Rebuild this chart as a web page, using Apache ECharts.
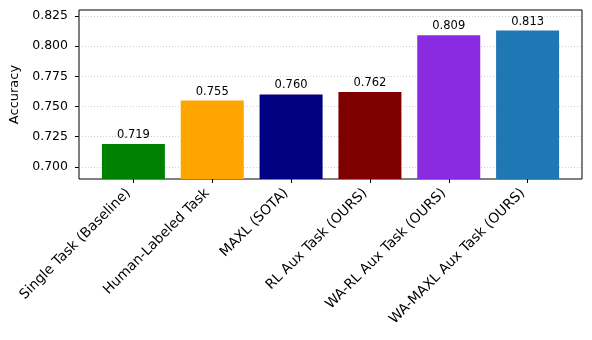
<!DOCTYPE html>
<html>
<head>
<meta charset="utf-8">
<script src="https://cdn.jsdelivr.net/npm/echarts@6/dist/echarts.min.js"></script>
<style>
  html, body { margin: 0; padding: 0; background: #fff; }
  #chart { width: 592px; height: 340px; }
</style>
</head>
<body>
<div id="chart"></div>
<script>
// data
const categories = [
  "Single Task (Baseline)",
  "Human-Labeled Task",
  "MAXL (SOTA)",
  "RL Aux Task (OURS)",
  "WA-RL Aux Task (OURS)",
  "WA-MAXL Aux Task (OURS)",
];
const accuracy = [0.719, 0.755, 0.760, 0.762, 0.809, 0.813];
const barColors = ["#008000", "#ffa500", "#000080", "#800000", "#8a2be2", "#1f77b4"];
const yTicks = [0.700, 0.725, 0.750, 0.775, 0.800, 0.825];
const xTicks = [0, 1, 2, 3, 4, 5];

const font = "DejaVu Sans";

const chart = echarts.init(document.getElementById("chart"));

const option = {
  backgroundColor: "#fff",
  animation: false,
  grid: {
    left: 79,
    right: 10,
    top: 10,
    bottom: 161,
    show: true,
    borderColor: "#000",
    borderWidth: 1,
  },
  xAxis: {
    type: "value",
    min: -0.69,
    max: 5.69,
    axisLine: { show: false, onZero: false },
    splitLine: { show: false },
    axisTick: {
      show: true,
      length: 4,
      customValues: xTicks,
      lineStyle: { color: "#000", width: 1 },
    },
    axisLabel: {
      customValues: xTicks,
      rotate: 45,
      margin: 7,
      padding: [0, 7, 0, 0],
      color: "#000",
      fontFamily: font,
      fontSize: 13.8,
      formatter: (v) => categories[Math.round(v)] || "",
    },
  },
  yAxis: {
    type: "value",
    min: 0.69,
    max: 0.83,
    name: "Accuracy",
    nameLocation: "middle",
    nameGap: 58,
    nameTextStyle: { color: "#000", fontFamily: font, fontSize: 13 },
    axisLine: { show: false, onZero: false },
    axisTick: {
      show: true,
      length: 4,
      customValues: yTicks,
      lineStyle: { color: "#000", width: 1 },
    },
    axisLabel: {
      customValues: yTicks,
      margin: 11,
      color: "#000",
      fontFamily: font,
      fontSize: 12.5,
      formatter: (v) => v.toFixed(3),
    },
    splitLine: {
      show: true,
      lineStyle: { color: "#b0b0b0", width: 0.6, type: [1, 2] },
    },
  },
  series: [
    {
      type: "bar",
      barWidth: 63,
      data: accuracy.map((v, i) => ({
        value: [i, v],
        itemStyle: { color: barColors[i] },
      })),
      label: {
        show: true,
        position: "top",
        distance: 3,
        color: "#000",
        fontFamily: font,
        fontSize: 11.5,
        formatter: (p) => p.value[1].toFixed(3),
      },
    },
  ],
};

chart.setOption(option);
</script>
</body>
</html>
